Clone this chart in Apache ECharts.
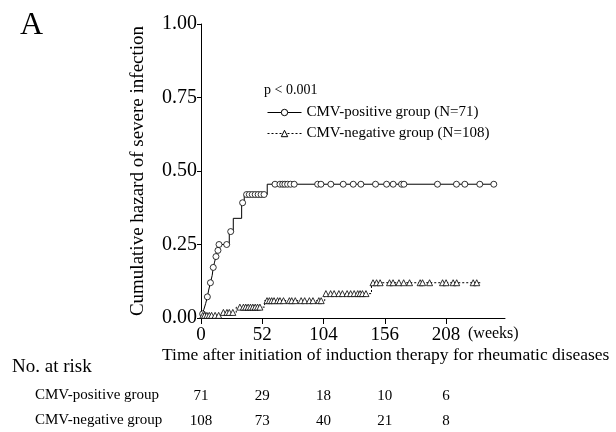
<!DOCTYPE html>
<html>
<head>
<meta charset="utf-8">
<script src="https://cdn.jsdelivr.net/npm/echarts@6/dist/echarts.min.js"></script>
<style>
    html, body { margin: 0; padding: 0; background: #fff; }
    #chart { width: 616px; height: 432px; }
</style>
</head>
<body>
<div id="chart"></div>
<script>
// MARK: - Data

const xTicks = [0, 52, 104, 156, 208];
const yTicks = [0, 0.25, 0.5, 0.75, 1];

// CMV-positive: step changes [week, cumulative hazard]
const posEventWeeks = [0, 1, 2.5, 4, 5.4, 6.5, 8, 9.5, 10.4, 11.5, 12.7, 14, 15.3, 24, 27.4, 34.5, 36.7, 56.2];
const posEventHazard = [0, 0.014, 0.03, 0.05, 0.072, 0.095, 0.12, 0.145, 0.172, 0.19, 0.209, 0.23, 0.25, 0.294, 0.339, 0.392, 0.42, 0.455];
const posMarkWeeks = [1.4, 5.4, 8, 10.4, 12.7, 14.4, 15.3, 21.8, 25.2, 35.3, 38.7, 41, 43.5, 46, 48.5, 51, 53.5,
    62.8, 67, 69.3, 71.2, 73.5, 76, 79.1, 99, 101.8, 110.2, 120.7, 129.2, 135.7, 148.1, 157.5, 163.1,
    170.2, 172.2, 200.7, 216.8, 223.9, 236.6, 248.5];
const posEndWeek = 250;

// CMV-negative
const negEventWeeks = [0, 0.5, 17.8, 29.9, 54, 105, 144.7];
const negEventHazard = [0, 0.009, 0.019, 0.037, 0.059, 0.083, 0.12];
const negMarkWeeks = [1.5, 3, 5, 7, 9, 12, 15, 19, 22, 24, 27, 33, 36, 38, 40, 42, 44, 46, 48, 50,
    56, 58, 60, 62, 65, 67, 70, 75, 77, 80, 85, 88, 92, 95, 100, 102,
    106, 110, 113, 117, 120, 124, 127, 130, 133, 135, 137, 140,
    146, 149, 152, 160, 163, 168, 172, 177, 186, 188, 194, 205, 208, 214, 217, 231, 234];
const negEndWeek = 237;

const groupNames = ['CMV-positive group (N=71)', 'CMV-negative group (N=108)'];
const riskLabels = ['CMV-positive group', 'CMV-negative group'];
const riskPositive = [71, 29, 18, 10, 6];
const riskNegative = [108, 73, 40, 21, 8];

// MARK: - Build step series (events without symbol, censor marks with symbol)

function levelAt(weeks, hazard, t) {
    let h = 0;
    for (let i = 0; i < weeks.length; i++) {
        if (weeks[i] <= t) h = hazard[i];
    }
    return h;
}

function buildCurve(eventWeeks, eventHazard, markWeeks, endWeek) {
    let points = [];
    eventWeeks.forEach((w, i) => points.push({ value: [w, eventHazard[i]], symbol: 'none' }));
    markWeeks.forEach(w => points.push({ value: [w, levelAt(eventWeeks, eventHazard, w)] }));
    points.push({ value: [endWeek, levelAt(eventWeeks, eventHazard, endWeek)], symbol: 'none' });
    points.sort((a, b) => a.value[0] - b.value[0]);
    return points;
}

const serif = '"Liberation Serif", "DejaVu Serif", serif';

let chart = echarts.init(document.getElementById('chart'), null, { renderer: 'canvas' });

let option = {
    animation: false,
    backgroundColor: '#fff',
    textStyle: { fontFamily: serif, color: '#000' },
    grid: { left: 201, right: 111, top: 24, bottom: 114 },
    legend: {
        orient: 'vertical',
        left: 262,
        top: 100,
        itemWidth: 34,
        itemHeight: 8,
        itemGap: 6,
        itemStyle: { color: '#fff', borderColor: '#000', borderWidth: 1 },
        lineStyle: { width: 1 },
        textStyle: { fontFamily: serif, fontSize: 15, color: '#000' },
        data: groupNames
    },
    xAxis: {
        type: 'value',
        min: 0,
        max: 258,
        interval: 52,
        splitLine: { show: false },
        axisLine: { onZero: false, lineStyle: { color: '#000', width: 1 } },
        axisTick: { customValues: xTicks, length: 6, lineStyle: { color: '#000' } },
        axisLabel: { customValues: xTicks, fontFamily: serif, fontSize: 19, color: '#000', margin: 8 }
    },
    yAxis: {
        type: 'value',
        min: 0,
        max: 1,
        interval: 0.25,
        name: 'Cumulative hazard of severe infection',
        nameLocation: 'middle',
        nameGap: 53,
        nameTextStyle: { fontFamily: serif, fontSize: 19, color: '#000' },
        splitLine: { show: false },
        axisLine: { show: true, lineStyle: { color: '#000', width: 1 } },
        axisTick: { show: true, length: 4, lineStyle: { color: '#000' } },
        axisLabel: {
            fontFamily: serif, fontSize: 20, color: '#000', margin: 4,
            formatter: v => v.toFixed(2)
        }
    },
    series: [
        {
            name: groupNames[0],
            type: 'line',
            step: 'end',
            symbol: 'circle',
            symbolSize: 6,
            showAllSymbol: true,
            lineStyle: { color: '#000', width: 1 },
            itemStyle: { color: '#fff', borderColor: '#000', borderWidth: 0.8 },
            data: buildCurve(posEventWeeks, posEventHazard, posMarkWeeks, posEndWeek)
        },
        {
            name: groupNames[1],
            type: 'line',
            step: 'end',
            symbol: 'triangle',
            symbolSize: 6,
            showAllSymbol: true,
            lineStyle: { color: '#000', width: 1, type: [2, 2] },
            itemStyle: { color: '#fff', borderColor: '#000', borderWidth: 0.8 },
            data: buildCurve(negEventWeeks, negEventHazard, negMarkWeeks, negEndWeek)
        }
    ]
};

chart.setOption(option);

// MARK: - Texts around the plot (risk table positioned on the x scale)

let texts = [
    { type: 'text', left: 20, top: 10, style: { text: 'A', font: '32px ' + serif, fill: '#000' } },
    { type: 'text', left: 264, top: 83, style: { text: 'p < 0.001', font: '14px ' + serif, fill: '#000' } },
    { type: 'text', left: 468, top: 326, style: { text: '(weeks)', font: '16px ' + serif, fill: '#000' } },
    { type: 'text', left: 162, top: 346, style: { text: 'Time after initiation of induction therapy for rheumatic diseases', font: '17.5px ' + serif, fill: '#000' } },
    { type: 'text', left: 12, top: 358, style: { text: 'No. at risk', font: '19px ' + serif, fill: '#000' } },
    { type: 'text', left: 35, top: 388, style: { text: riskLabels[0], font: '15px ' + serif, fill: '#000' } },
    { type: 'text', left: 35, top: 413, style: { text: riskLabels[1], font: '15px ' + serif, fill: '#000' } }
];

xTicks.forEach((w, i) => {
    let px = chart.convertToPixel({ xAxisIndex: 0 }, w);
    texts.push({ type: 'text', x: px, y: 396, style: { text: '' + riskPositive[i], font: '15px ' + serif, fill: '#000', align: 'center', verticalAlign: 'middle' } });
    texts.push({ type: 'text', x: px, y: 421, style: { text: '' + riskNegative[i], font: '15px ' + serif, fill: '#000', align: 'center', verticalAlign: 'middle' } });
});

chart.setOption({ graphic: texts });
</script>
</body>
</html>
